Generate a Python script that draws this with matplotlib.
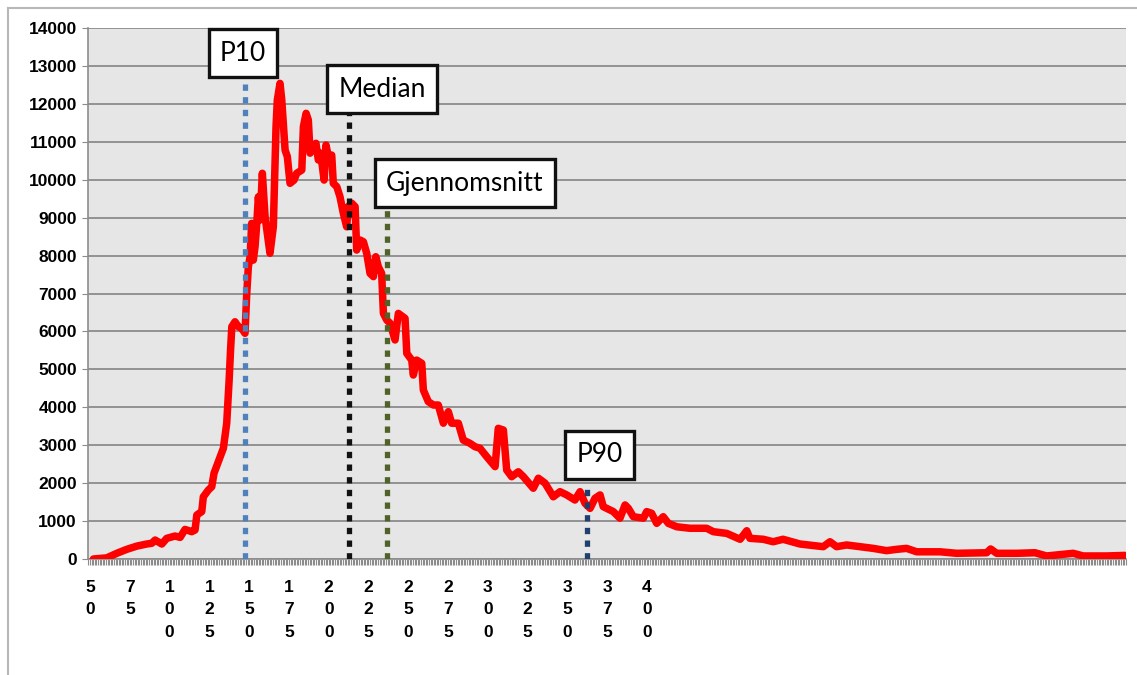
import matplotlib.pyplot as plt
from matplotlib.lines import Line2D

plt.rcParams['font.family'] = ['Lato', 'DejaVu Sans']

# distribution curve
belop = [52.1, 60.5, 66.8, 73.1, 79.4, 85.6, 88.8, 90.9, 95.1, 98.2, 103.4, 106.6,
         109.7, 113.9, 116.0, 117.1, 120.2, 121.2, 124.4, 126.5, 127.9, 130.6, 133.8,
         135.9, 137.4, 138.3, 139.1, 141.1, 143.2, 145.3, 147.4, 148.5, 149.5, 150.6,
         151.6, 152.6, 153.7, 154.8, 155.8, 156.9, 158.3, 160.0, 163.1, 165.2, 166.9,
         167.7, 169.4, 170.5, 172.6, 174.0, 175.7, 178.2, 179.9, 183.1, 184.1, 185.8,
         187.2, 188.3, 190.4, 192.0, 193.5, 195.0, 197.1, 198.3, 199.8, 201.9, 202.9,
         205.1, 207.1, 209.2, 211.3, 212.3, 214.5, 216.6, 217.6, 219.7, 221.8, 223.9,
         226.0, 228.1, 229.6, 231.2, 233.3, 234.4, 236.5, 238.6, 241.7, 243.8, 248.0,
         249.1, 252.2, 253.2, 255.3, 258.5, 259.5, 262.6, 265.8, 268.9, 272.1, 275.2,
         277.3, 281.5, 284.6, 288.8, 292.0, 295.1, 299.3, 304.6, 306.6, 309.8, 311.9,
         315.0, 319.2, 322.4, 328.6, 331.8, 336.0, 341.2, 345.4, 349.6, 354.8, 358.0,
         361.1, 364.3, 367.4, 370.6, 372.6, 378.9, 383.1, 386.3, 388.4, 391.5, 397.8,
         399.9, 403.0, 406.2, 410.3, 413.5, 418.8, 427.1, 437.6, 441.8, 450.2, 458.6,
         462.8, 464.8, 473.2, 479.4, 485.6, 496.3, 510.9, 515.1, 519.3, 525.6, 542.3,
         550.7, 557.0, 563.3, 569.6, 584.3, 594.7, 613.6, 616.1, 619.9, 632.5, 644.0,
         651.3, 668.0, 674.3, 689.0, 700.5]
antall = [0, 30, 150, 255, 340, 395, 415, 500, 395, 545, 605, 570,
          780, 720, 765, 1160, 1250, 1640, 1820, 1905, 2260, 2565, 2920,
          3580, 4700, 5500, 6125, 6255, 6125, 6080, 5950, 7005, 7705, 7970,
          8850, 7880, 8235, 8850, 9550, 8940, 10170, 9025, 8060, 8760, 11400,
          12100, 12540, 12100, 10780, 10610, 9905, 9990, 10170, 10255, 11400, 11750,
          11575, 10700, 10870, 10960, 10520, 10700, 9990, 10915, 10610, 10650, 9905,
          9815, 9550, 9115, 8760, 9290, 9380, 9290, 8145, 8410, 8365, 8060,
          7530, 7445, 7970, 7705, 7530, 6475, 6300, 6215, 5775, 6475, 6345,
          5420, 5245, 4850, 5245, 5160, 4455, 4150, 4060, 4060, 3580, 3885,
          3580, 3580, 3135, 3050, 2960, 2920, 2700, 2435, 3445, 3400, 2345,
          2170, 2300, 2170, 1865, 2130, 2000, 1640, 1775, 1690, 1555, 1775,
          1470, 1335, 1600, 1690, 1380, 1250, 1075, 1425, 1335, 1115, 1075,
          1250, 1205, 940, 1115, 940, 850, 810, 810, 720, 675, 520,
          745, 545, 520, 455, 520, 395, 325, 455, 325, 370, 280,
          220, 255, 280, 190, 190, 150, 165, 265, 150, 150, 165,
          80, 150, 80, 80, 95]

# statistics markers
stat_navn = ['P10', 'Median', 'Gjennomsnitt', 'P90']
stat_pos = [147.4, 212.8, 236.7, 362.4]
stat_topp = [12680, 11760, 9255, 1900]
boks_x = [146.2, 233.5, 285.7, 370.2]
boks_y = [13340, 12390, 9913, 2742]
stat_farge = ['#4f81bd', '#111111', '#4f6228', '#1f3f6e']

x_ticks = list(range(50, 401, 25))
y_ticks = list(range(0, 14001, 1000))

fig = plt.figure(figsize=(11.37, 6.75), dpi=100)
ax = fig.add_axes([88 / 1137, 1 - 559 / 675, 1038 / 1137, 531 / 675])
ax.set_facecolor('#e6e6e6')

ax.plot(belop, antall, color='#ff0000', lw=5.4, solid_joinstyle='round',
        solid_capstyle='round', zorder=3)

for pos, topp, farge in zip(stat_pos, stat_topp, stat_farge):
    ax.plot([pos, pos], [0, topp], color=farge, lw=3.8, linestyle=(0, (1.2, 1.2)),
            dash_capstyle='butt', zorder=4)

for navn, bx, by in zip(stat_navn, boks_x, boks_y):
    ax.text(bx, by, navn, fontsize=19, ha='center', va='center', zorder=5,
            bbox=dict(boxstyle='square,pad=0.42', fc='white', ec='#111111', lw=2.4))

tick_font = dict(family=['Liberation Sans', 'DejaVu Sans'], size=12.5, weight='bold')
ax.set_xlim(48.7, 701.2)
ax.set_ylim(0, 14000)
ax.set_yticks(y_ticks)
ax.set_yticklabels([str(v) for v in y_ticks], fontdict=tick_font)
ax.set_xticks(x_ticks)
ax.set_xticklabels(['\n'.join(str(v)) for v in x_ticks], fontdict=tick_font,
                   linespacing=1.62, va='top')
ax.set_xticks(range(49, 702), minor=True)

ax.grid(axis='y', color='#8c8c8c', lw=1.3, zorder=1)
ax.set_axisbelow(True)
for side in ['top', 'right']:
    ax.spines[side].set_visible(False)
for side in ['left', 'bottom']:
    ax.spines[side].set_color('#8c8c8c')
    ax.spines[side].set_linewidth(1.2)
ax.tick_params(axis='y', length=4, color='#8c8c8c', pad=4)
ax.tick_params(axis='x', which='both', length=4, width=0.8, color='#8c8c8c', pad=11)

# outer frame of the chart area
fig.add_artist(Line2D([8 / 1137, 1], [1 - 8 / 675, 1 - 8 / 675], color='#b8b8b8', lw=1.5))
fig.add_artist(Line2D([8 / 1137, 8 / 1137], [0, 1 - 8 / 675], color='#b8b8b8', lw=1.5))

fig.savefig('out.png', dpi=100)
